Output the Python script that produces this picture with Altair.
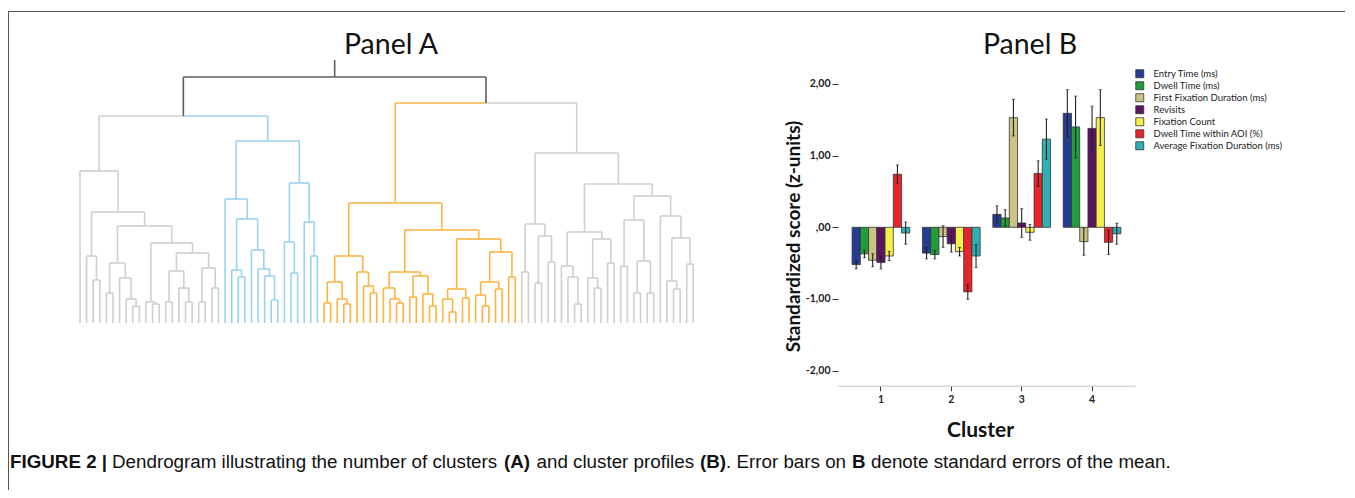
import altair as alt
import pandas as pd

# ---------------- Panel A: dendrogram (merge heights, rescaled distance) ----------------
# node = (merge height, left child, right child); 0 = single case (leaf)
gray_left = (15.2, 0, (11.1, (6.7, 0, (4.3, 0, 0)), (9.7, (6.0, (3.0, 0, 0), (4.5, 0, (2.4, 0, (1.7, 0, 0)))), (8.0, (2.1, 0, (1.9, 0, 0)), (7.0, (5.2, (2.1, 0, 0), (3.5, 0, (2.1, 0, 0))), (5.5, (2.1, 0, 0), (3.5, 0, 0)))))))
blue = (18.2, (12.4, 0, (10.4, (5.3, 0, (4.6, 0, 0)), (7.3, 0, (5.4, 0, (4.7, 0, (2.3, 0, 0)))))), (14.0, (8.1, 0, (5.0, 0, 0)), (10.1, 0, (6.7, 0, 0))))
orange = (12.0, (6.7, (4.1, (2.0, 0, 0), (2.4, 0, (1.9, 0, 0))), (5.1, 0, (3.7, 0, (3.0, 0, 0)))), (9.3, (5.1, (3.5, 0, (2.4, 0, (2.0, 0, 0))), (4.7, (2.6, 0, 0), (2.9, 0, (1.7, 0, 0)))), (8.4, (3.4, (2.4, 0, (1.1, 0, 0)), (2.5, 0, 0)), (7.1, (4.1, (2.8, 0, (1.7, 0, 0)), (3.4, 0, 0)), (4.6, 0, 0)))))
gray_right = (17.0, (9.9, (5.1, 0, 0), (8.7, (4.0, 0, 0), (6.1, 0, 0))), (13.9, (9.1, (5.7, 0, (4.6, 0, (1.9, 0, 0))), (8.4, (4.5, 0, (3.5, 0, 0)), (6.0, 0, 0))), (12.7, (10.3, (5.7, 0, 0), (6.2, (3.0, 0, 0), (3.0, 0, 0))), (10.7, 0, (8.5, (4.2, 0, (3.4, 0, 0)), (5.9, 0, 0))))))
cluster_trees = {"gray_left": gray_left, "blue": blue, "orange": orange, "gray_right": gray_right}
top_tree = (24.6, (20.7, "gray_left", "blue"), (22.0, "orange", "gray_right"))
root_stem = 26.3
link_groups = ["gray_left", "gray_right", "blue", "orange", "top"]
link_colors = ["#cfcfcf", "#cfcfcf", "#9ad3ee", "#fcb540", "#5e5e5e"]

# ---------------- Panel B: cluster profiles ----------------
clusters = ["1", "2", "3", "4"]
series = ["Entry Time (ms)", "Dwell Time (ms)", "First Fixation Duration (ms)", "Revisits",
          "Fixation Count", "Dwell Time within AOI (%)", "Average Fixation Duration (ms)"]
series_colors = ["#233d93", "#1f9e3a", "#cbc383", "#5a1462", "#f6f04a", "#e8232a", "#2fb0b4"]
entry_time = [-0.52, -0.36, 0.18, 1.59]
dwell_time = [-0.37, -0.38, 0.13, 1.40]
first_fix = [-0.46, -0.13, 1.53, -0.20]
revisits = [-0.49, -0.23, 0.06, 1.38]
fix_count = [-0.40, -0.34, -0.07, 1.53]
dwell_aoi = [0.74, -0.90, 0.75, -0.21]
avg_fix = [-0.08, -0.40, 1.23, -0.09]
entry_se = [0.06, 0.08, 0.12, 0.33]
dwell_se = [0.055, 0.06, 0.115, 0.43]
first_fix_se = [0.09, 0.15, 0.255, 0.19]
revisits_se = [0.09, 0.115, 0.20, 0.31]
fix_count_se = [0.065, 0.06, 0.11, 0.39]
dwell_aoi_se = [0.13, 0.105, 0.177, 0.17]
avg_fix_se = [0.155, 0.16, 0.28, 0.145]
y_ticks = [-2, -1, 0, 1, 2]

CAP_FS = 18.8
caption_bold = [("FIGURE 2 |", 2), ("(A)", 496), ("(B)", 692), ("B", 844)]
caption_normal = [("Dendrogram illustrating the number of clusters", 104), ("and cluster profiles", 528.5),
                  (". Error bars on", 718), ("denote standard errors of the mean.", 863)]

# ---------------- build dendrogram links ----------------
seg_rows = []
counter = [0]


def build(node, group):
    if isinstance(node, str):
        return build(cluster_trees[node], node)
    if node == 0:
        i = counter[0]
        counter[0] += 1
        return float(i), 0.0, group
    h, a, b = node
    kids = [build(a, group), build(b, group)]
    x = (kids[0][0] + kids[1][0]) / 2.0
    for cx, ch, cg in kids:
        seg_rows.append(dict(x=cx, x2=cx, y=ch, y2=h, g=cg))
        seg_rows.append(dict(x=cx, x2=x, y=h, y2=h, g=cg))
    return x, h, group


rx, rh, _ = build(top_tree, "top")
seg_rows.append(dict(x=rx, x2=rx, y=rh, y2=root_stem, g="top"))
n_leaves = counter[0]
seg_df = pd.DataFrame(seg_rows)
seg_df["order"] = (seg_df["g"] == "top").astype(int)
seg_df = seg_df.sort_values("order", kind="stable")

dendro = alt.Chart(seg_df).mark_rule(strokeWidth=1.6).encode(
    x=alt.X("x:Q", scale=alt.Scale(domain=[0, n_leaves - 1], range=[72, 685.3], nice=False, zero=False), axis=None),
    x2="x2:Q",
    y=alt.Y("y:Q", scale=alt.Scale(domain=[0, root_stem], range=[315, 52], nice=False, zero=False), axis=None),
    y2="y2:Q",
    color=alt.Color("g:N", scale=alt.Scale(domain=link_groups, range=link_colors), legend=None),
)

# ---------------- bar chart ----------------
means = [entry_time, dwell_time, first_fix, revisits, fix_count, dwell_aoi, avg_fix]
ses = [entry_se, dwell_se, first_fix_se, revisits_se, fix_count_se, dwell_aoi_se, avg_fix_se]
rows = []
for s, m, e in zip(series, means, ses):
    for c, v, se in zip(clusters, m, e):
        rows.append(dict(cluster=c, series=s, mean=v, lo=v - se, hi=v + se))
bar_df = pd.DataFrame(rows)

FONT = "Lato"
x_enc = alt.X("cluster:N", sort=clusters,
              scale=alt.Scale(range=[830, 1127], paddingInner=0.18, paddingOuter=0.2),
              axis=alt.Axis(orient="bottom", offset=-104.3, title="Cluster", labelAngle=0,
                            labelFont=FONT, labelFontWeight="bold", labelFontSize=10.5, labelColor="#222",
                            labelPadding=4, tickSize=5, tickColor="#333", domainColor="#c4c4c4",
                            titleFont=FONT, titleFontWeight="bold", titleFontSize=21, titleColor="#111",
                            titleX=972, titleY=45, titleBaseline="middle", titleAlign="center"))
xo_enc = alt.XOffset("series:N", sort=series, scale=alt.Scale(paddingInner=0, paddingOuter=0))
y_scale = alt.Scale(domain=[-2.21, 2.21], range=[377.7, 60.9], nice=False, zero=False)
y_axis = alt.Axis(orient="left", offset=-830, values=y_ticks, domain=False, grid=False,
                  labelExpr="datum.value == 0 ? ',00' : datum.value + ',00'",
                  labelFont=FONT, labelFontWeight="bold", labelFontSize=10.5, labelColor="#222",
                  labelPadding=2, tickSize=6, tickColor="#333",
                  title="Standardized score (z-units)", titleFont=FONT, titleFontWeight="bold",
                  titleFontSize=19, titleColor="#111", titleX=-45, titleY=228,
                  titleAlign="center", titleBaseline="middle", titleAngle=270)

bars = alt.Chart(bar_df).mark_bar(stroke="#333", strokeWidth=0.8).encode(
    x=x_enc, xOffset=xo_enc,
    y=alt.Y("mean:Q", scale=y_scale, axis=y_axis),
    color=alt.Color("series:N", sort=series, scale=alt.Scale(domain=series, range=series_colors),
                    legend=alt.Legend(orient="none", legendX=1127, legendY=61, title=None,
                                      symbolType="square", symbolSize=64, symbolStrokeColor="#333",
                                      symbolStrokeWidth=0.8, labelFont=FONT, labelFontSize=9.5,
                                      labelColor="#222", labelOffset=9, rowPadding=0, padding=0)),
)
errs = alt.Chart(bar_df).mark_rule(color="#222", strokeWidth=1.1).encode(
    x=x_enc, xOffset=xo_enc,
    y=alt.Y("lo:Q", scale=y_scale, axis=y_axis), y2="hi:Q",
)
caps_lo = alt.Chart(bar_df).mark_tick(color="#222", size=3, thickness=1, orient="horizontal").encode(
    x=x_enc, xOffset=xo_enc, y=alt.Y("lo:Q", scale=y_scale, axis=y_axis))
caps_hi = alt.Chart(bar_df).mark_tick(color="#222", size=3, thickness=1, orient="horizontal").encode(
    x=x_enc, xOffset=xo_enc, y=alt.Y("hi:Q", scale=y_scale, axis=y_axis))
panel_b = alt.layer(bars, errs, caps_lo, caps_hi)

# ---------------- frame, titles, caption ----------------
one = pd.DataFrame({"a": [0]})
frame_top = alt.Chart(one).mark_rule(color="#555", strokeWidth=1).encode(
    x=alt.value(0), x2=alt.value(1337), y=alt.value(3.5))
frame_left = alt.Chart(one).mark_rule(color="#555", strokeWidth=1).encode(
    x=alt.value(0.5), y=alt.value(3.5), y2=alt.value(482))

titles_df = pd.DataFrame({"t": ["Panel A", "Panel B"], "px": [383, 1022]})
titles = alt.Chart(titles_df).mark_text(font=FONT, fontSize=28.5, align="center", baseline="alphabetic",
                                        color="#111").encode(
    text="t:N", x=alt.X("px:Q", scale=None), y=alt.value(46))

cap_b = alt.Chart(pd.DataFrame(caption_bold, columns=["t", "px"])).mark_text(
    font="Liberation Sans", fontSize=CAP_FS, fontWeight="bold", align="left", baseline="alphabetic", color="#111").encode(
    text="t:N", x=alt.X("px:Q", scale=None), y=alt.value(459.5))
cap_n = alt.Chart(pd.DataFrame(caption_normal, columns=["t", "px"])).mark_text(
    font="Liberation Sans", fontSize=CAP_FS, align="left", baseline="alphabetic", color="#111").encode(
    text="t:N", x=alt.X("px:Q", scale=None), y=alt.value(459.5))

chart = alt.layer(frame_top, frame_left, dendro, panel_b, titles, cap_b, cap_n).resolve_scale(
    x="independent", y="independent", color="independent"
).properties(
    width=1339, height=482, padding=0, autosize=alt.AutoSizeParams(type="none")
).configure_view(stroke=None)

chart.save("out.html", embed_options={"renderer": "svg", "actions": False})
